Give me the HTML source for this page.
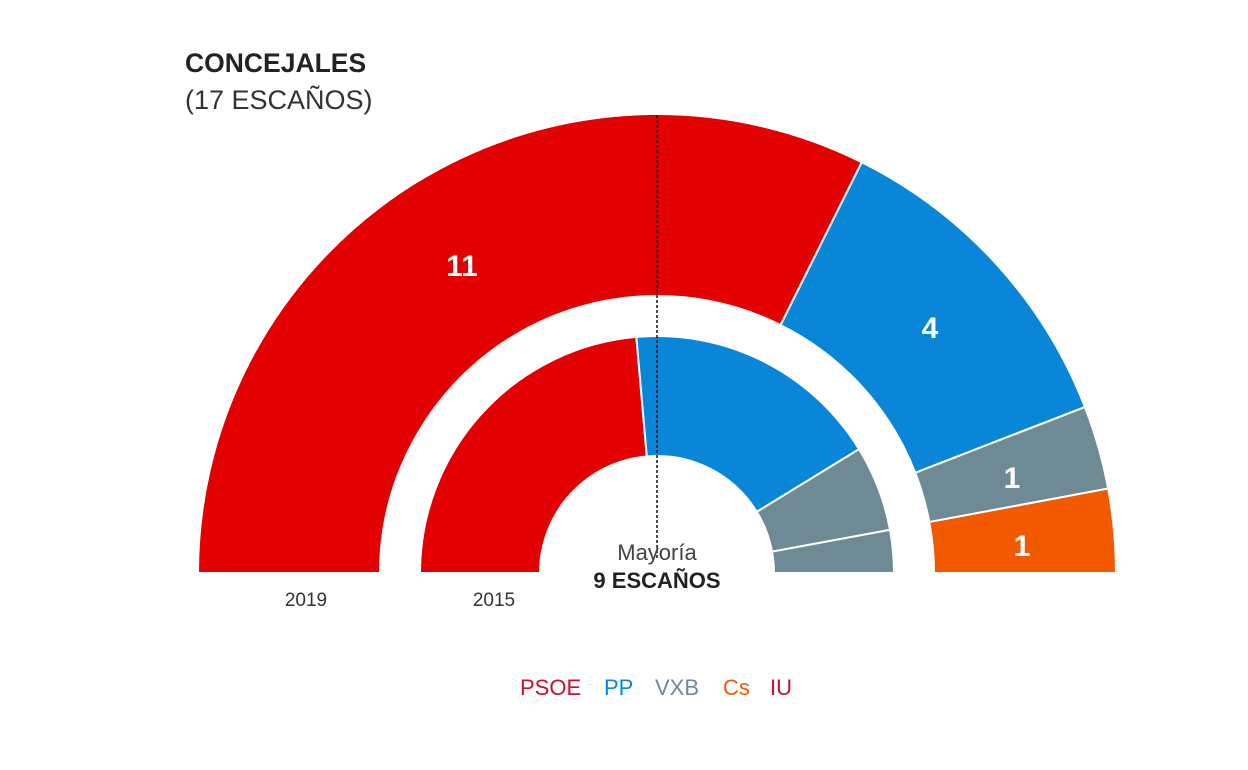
<!DOCTYPE html>
<html><head><meta charset="utf-8"><style>
html,body{margin:0;padding:0;background:#fff;}
svg{display:block;font-family:"Liberation Sans",sans-serif;}
</style></head><body>
<svg id="s" width="1248" height="770" viewBox="0 0 1248 770">
<text x="185" y="72" font-size="26.5" font-weight="bold" fill="#222">CONCEJALES</text>
<text x="185" y="109" font-size="27" fill="#333">(17 ESCAÑOS)</text>
<g id="arcs"></g>
<line x1="657" y1="115" x2="657" y2="560" stroke="#111" stroke-width="1.5" stroke-dasharray="3,2"/>
<g fill="#fff" font-weight="bold" font-size="30" text-anchor="middle">
<text x="462" y="276">11</text>
<text x="930" y="338">4</text>
<text x="1012" y="488">1</text>
<text x="1022" y="556">1</text>
</g>
<text x="657" y="560" font-size="22" fill="#444" text-anchor="middle">Mayoría</text>
<text x="657" y="588" font-size="22" font-weight="bold" fill="#222" text-anchor="middle">9 ESCAÑOS</text>
<text x="306" y="606" font-size="19" fill="#333" text-anchor="middle">2019</text>
<text x="494" y="606" font-size="19" fill="#333" text-anchor="middle">2015</text>
<g font-size="22">
<text x="520" y="695" fill="#c8102e">PSOE</text>
<text x="604" y="695" fill="#0a86d8">PP</text>
<text x="655" y="695" fill="#6e8a94">VXB</text>
<text x="723" y="695" fill="#f35a00">Cs</text>
<text x="770" y="695" fill="#c8102e">IU</text>
</g>
</svg>
<script>
var cx=657,cy=573,g=document.getElementById('arcs');
function arc(r0,r1,a0,a1,c){
 function p(r,a){a=a*Math.PI/180;return (cx+r*Math.cos(a)).toFixed(2)+','+(cy-r*Math.sin(a)).toFixed(2);}
 var d='M'+p(r1,a0)+' A'+r1+','+r1+' 0 0 1 '+p(r1,a1)+' L'+p(r0,a1)+' A'+r0+','+r0+' 0 0 0 '+p(r0,a0)+'Z';
 var e=document.createElementNS('http://www.w3.org/2000/svg','path');
 e.setAttribute('d',d);e.setAttribute('fill',c);e.setAttribute('stroke','#fff');e.setAttribute('stroke-width','2');
 g.appendChild(e);
}
var R='#e30000',B='#0a86d8',G='#6e8a94',O='#f35a00';
arc(277,459,180,63.5,R);arc(277,459,63.5,21.2,B);arc(277,459,21.2,10.6,G);arc(277,459,10.6,0,O);
arc(117,237,180,95,R);arc(117,237,95,31.5,B);arc(117,237,31.5,10.5,G);arc(117,237,10.5,0,G);
</script>
</body></html>
